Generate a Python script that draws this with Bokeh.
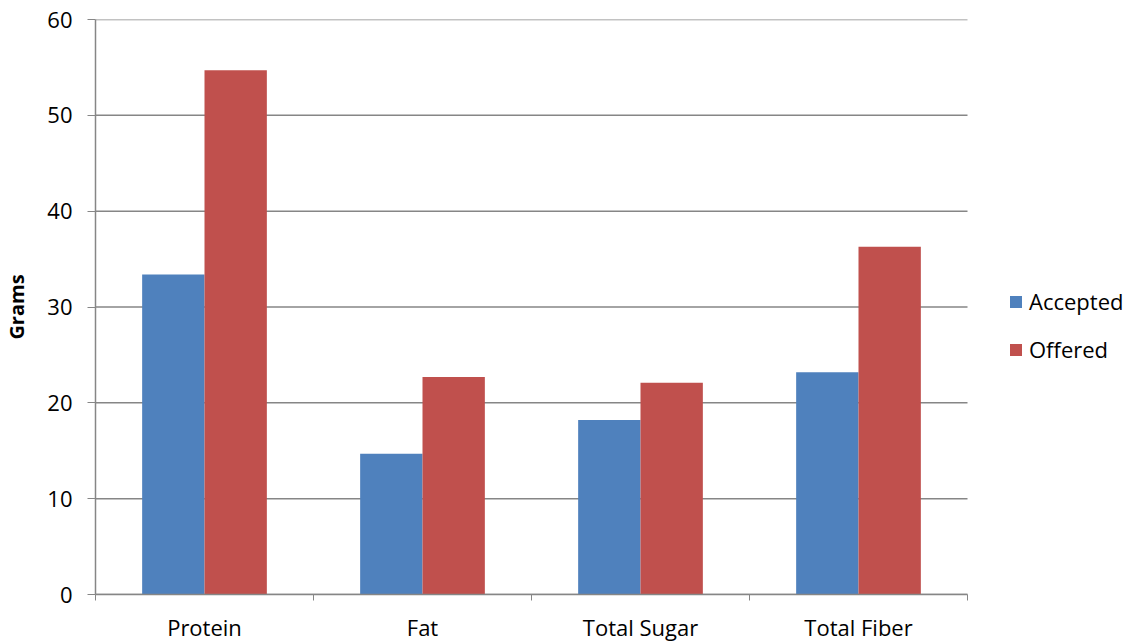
from bokeh.plotting import figure
from bokeh.models import (ColumnDataSource, Range1d, FixedTicker, Legend, LegendItem)
from bokeh.embed import file_html
from bokeh.resources import INLINE

# Nutrient totals in grams
categories = ["Protein", "Fat", "Total Sugar", "Total Fiber"]
accepted = [33.4, 14.7, 18.2, 23.2]
offered = [54.7, 22.7, 22.1, 36.3]
y_ticks = [0, 10, 20, 30, 40, 50, 60]

BLUE = "#4F81BD"
RED = "#C0504D"
GREY = "#868686"
FONT = "Open Sans"

n = len(categories)
centers = [i + 0.5 for i in range(n)]
bounds = [float(i) for i in range(n + 1)]
bar_w = 0.286

# the frame runs to the right edge so the legend can sit beside the bars;
# the bar area (0..n) takes 872 of the frame's 1043 pixels
x_end = n * 1043 / 872

src = ColumnDataSource(dict(
    cat=categories,
    x_acc=[c - bar_w / 2 for c in centers],
    x_off=[c + bar_w / 2 for c in centers],
    accepted=accepted,
    offered=offered,
))

p = figure(width=1138, height=644,
           x_range=Range1d(0, x_end), y_range=Range1d(y_ticks[0], y_ticks[-1]),
           output_backend="svg", toolbar_location=None,
           min_border_left=95, min_border_right=0,
           min_border_top=19, min_border_bottom=49)
p.outline_line_color = None
p.background_fill_color = "white"
p.border_fill_color = "white"
p.xgrid.grid_line_color = None
p.ygrid.grid_line_color = None

# horizontal gridlines across the bar area only
p.segment(x0=[0] * len(y_ticks), x1=[n] * len(y_ticks), y0=y_ticks, y1=y_ticks,
          line_color=GREY, line_width=1.5, level="underlay")

r_acc = p.vbar(x="x_acc", top="accepted", width=bar_w, source=src,
               fill_color=BLUE, line_color=None)
r_off = p.vbar(x="x_off", top="offered", width=bar_w, source=src,
               fill_color=RED, line_color=None)

# x axis: labels at category centres, tick marks at category boundaries
xa = p.xaxis[0]
xa.bounds = (0, n)
xa.ticker = FixedTicker(ticks=centers, minor_ticks=bounds)
xa.major_label_overrides = {c: lab for c, lab in zip(centers, categories)}
xa.major_tick_out = 0
xa.major_tick_in = 0
xa.minor_tick_out = 6
xa.minor_tick_in = 0
xa.minor_tick_line_color = GREY
xa.axis_line_color = GREY
xa.axis_line_width = 1.5
xa.major_label_text_font = FONT
xa.major_label_text_font_size = "22px"
xa.major_label_text_color = "black"
xa.major_label_standoff = 11

ya = p.yaxis[0]
ya.ticker = FixedTicker(ticks=y_ticks)
ya.major_tick_out = 8
ya.major_tick_in = 0
ya.minor_tick_line_color = None
ya.major_tick_line_color = GREY
ya.axis_line_color = GREY
ya.axis_line_width = 1.5
ya.major_label_text_font = FONT
ya.major_label_text_font_size = "22px"
ya.major_label_text_color = "black"
ya.major_label_standoff = 15
ya.axis_label = "Grams"
ya.axis_label_text_font = FONT
ya.axis_label_text_font_style = "bold"
ya.axis_label_text_font_size = "20px"
ya.axis_label_text_color = "black"
ya.axis_label_standoff = 14

legend = Legend(items=[LegendItem(label="Accepted", renderers=[r_acc]),
                       LegendItem(label="Offered", renderers=[r_off])],
                location=(913, 230), orientation="vertical",
                padding=0, margin=0, spacing=18,
                glyph_width=15, glyph_height=15, label_height=24,
                label_standoff=6,
                label_text_font=FONT, label_text_font_size="22px",
                label_text_color="black",
                border_line_color=None, background_fill_alpha=0)
p.add_layout(legend, "center")

open("out.html", "w").write(file_html(p, INLINE))
